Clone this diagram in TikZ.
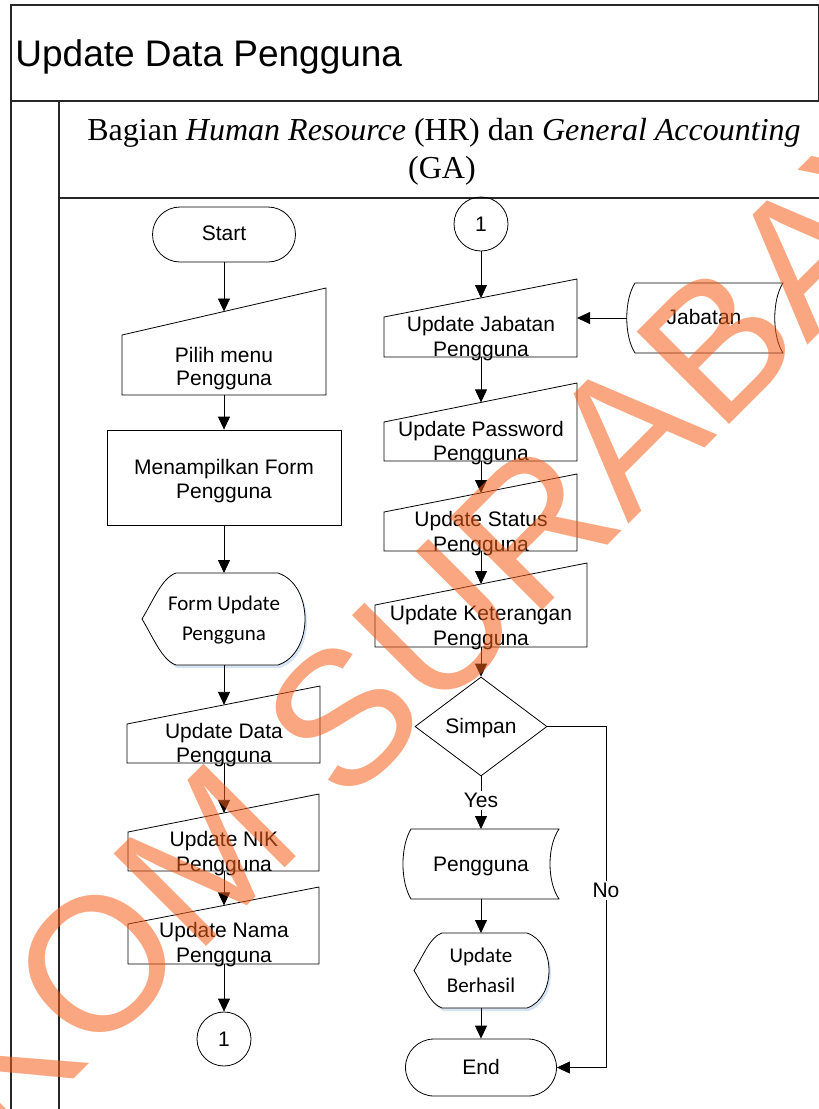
\documentclass[tikz,border=0pt]{standalone}
\usepackage{fontspec}
\setmainfont{Liberation Serif}
\newfontfamily\arialf{Liberation Sans}
\newfontfamily\calibf{Carlito}
\usetikzlibrary{arrows.meta,shapes.geometric,shapes.misc}

\definecolor{wmark}{RGB}{245,95,25}
\definecolor{shadowblue}{RGB}{214,227,243}

\begin{document}
\begin{tikzpicture}[x=1pt,y=-1pt,
  line width=0.8pt,
  arr/.style={-{Triangle[length=13pt,width=12pt]}},
  border/.style={line width=1.1pt,draw=black!85},
  txt/.style={anchor=base,inner sep=0pt,font=\arialf\fontsize{21}{24}\selectfont},
  ctxt/.style={anchor=base,inner sep=0pt,font=\calibf\fontsize{21}{24}\selectfont},
  lbl/.style={fill=white,inner sep=2pt,font=\arialf\fontsize{21}{24}\selectfont},
  term/.style={draw,rounded rectangle,inner sep=0pt},
  conn/.style={draw,circle,minimum size=54pt,inner sep=0pt},
  proc/.style={draw,rectangle,inner sep=0pt},
  decide/.style={draw,diamond,inner sep=0pt}
]
\useasboundingbox (0,0) rectangle (819,1109);

% ---------- pool and lane frame ----------
\draw[border] (11,1109) -- (11,5) -- (818.5,5) -- (818.5,101);
\draw[border] (11,101) -- (819,101);
\draw[border] (59,101) -- (59,1109);
\draw[border] (59,198) -- (819,198);

\node[anchor=base west,inner sep=0pt,font=\arialf\fontsize{37}{41}\selectfont]
  (title) at (15,66) {Update Data Pengguna};
\node[anchor=base,inner sep=0pt,font=\fontsize{32}{38}\selectfont]
  (lane1) at (444,140) {Bagian \textit{Human Resource} (HR) dan \textit{General Accounting}};
\node[anchor=base,inner sep=0pt,font=\fontsize{32}{38}\selectfont]
  (lane2) at (442,178) {(GA)};

% ---------- left column ----------
\node[term,minimum width=143pt,minimum height=55pt] (start) at (224,234.5) {};
\node[txt] (start-t) at (224,240) {Start};

% manual input: Pilih menu Pengguna
\draw (122,335) -- (326,288) -- (326,395) -- (122,395) -- cycle;
\coordinate (pilih-in) at (224,311.5);
\coordinate (pilih-out) at (224,395);
\node[txt] (pilih-t1) at (224,362) {Pilih menu};
\node[txt] (pilih-t2) at (224,385) {Pengguna};

% process
\node[proc,minimum width=234pt,minimum height=95pt] (tampil) at (224,477.5) {};
\node[txt] (tampil-t1) at (224,474) {Menampilkan Form};
\node[txt] (tampil-t2) at (224,498) {Pengguna};

% display: Form Update Pengguna
\fill[shadowblue,shift={(2,3)}] (142,619) .. controls (154,599) and (162,578) .. (176,573)
  -- (278,573) .. controls (314,585) and (314,653) .. (278,665)
  -- (176,665) .. controls (162,660) and (154,639) .. (142,619) -- cycle;
\draw[fill=white] (142,619) .. controls (154,599) and (162,578) .. (176,573)
  -- (278,573) .. controls (314,585) and (314,653) .. (278,665)
  -- (176,665) .. controls (162,660) and (154,639) .. (142,619) -- cycle;
\coordinate (form-in) at (224,573);
\coordinate (form-out) at (224,665);
\node[ctxt] (form-t1) at (224,610) {Form Update};
\node[ctxt] (form-t2) at (224,640) {Pengguna};

% manual inputs
\draw (127,724) -- (320,686) -- (320,763) -- (127,763) -- cycle;
\coordinate (data-in) at (224,704.9);
\coordinate (data-out) at (224,763);
\node[txt] (data-t1) at (224,738) {Update Data};
\node[txt] (data-t2) at (224,762) {Pengguna};

\draw (128,832) -- (319,794) -- (319,871) -- (128,871) -- cycle;
\coordinate (nik-in) at (224,812.9);
\coordinate (nik-out) at (224,871);
\node[txt] (nik-t1) at (224,846) {Update NIK};
\node[txt] (nik-t2) at (224,871) {Pengguna};

\draw (128,924) -- (319,887) -- (319,964) -- (128,964) -- cycle;
\coordinate (nama-in) at (224,905.4);
\coordinate (nama-out) at (224,964);
\node[txt] (nama-t1) at (224,937) {Update Nama};
\node[txt] (nama-t2) at (224,962) {Pengguna};

\node[conn] (offa) at (224,1039) {};
\node[txt] (offa-t) at (224,1046.5) {1};

% ---------- right column ----------
\node[conn] (offb) at (481,224) {};
\node[txt] (offb-t) at (481,231.5) {1};

\draw (384,317) -- (577,279) -- (577,357) -- (384,357) -- cycle;
\coordinate (jab-in) at (481,298);
\coordinate (jab-side) at (577,318);
\coordinate (jab-out) at (481,357);
\node[txt] (jab-t1) at (481,331) {Update Jabatan};
\node[txt] (jab-t2) at (481,356) {Pengguna};

% stored data: Jabatan
\draw (635,283) -- (783,283) .. controls (772,300) and (772,336) .. (783,353)
  -- (635,353) .. controls (624,336) and (624,300) .. (635,283) -- cycle;
\coordinate (tbljab) at (627,318);
\node[txt] (tbljab-t) at (704,324) {Jabatan};

\draw (384,422) -- (577,383) -- (577,461) -- (384,461) -- cycle;
\coordinate (pass-in) at (481,402.4);
\coordinate (pass-out) at (481,461);
\node[txt] (pass-t1) at (481,436) {Update Password};
\node[txt] (pass-t2) at (481,460) {Pengguna};

\draw (384,512) -- (577,474) -- (577,551) -- (384,551) -- cycle;
\coordinate (stat-in) at (481,493);
\coordinate (stat-out) at (481,551);
\node[txt] (stat-t1) at (481,526) {Update Status};
\node[txt] (stat-t2) at (481,551) {Pengguna};

\draw (375,605) -- (587,563) -- (587,647) -- (375,647) -- cycle;
\coordinate (ket-in) at (481,584);
\coordinate (ket-out) at (481,647);
\node[txt] (ket-t1) at (481,620) {Update Keterangan};
\node[txt] (ket-t2) at (481,645) {Pengguna};

\node[decide,minimum width=132pt,minimum height=99pt] (simpan) at (481,726.5) {};
\node[txt] (simpan-t) at (481,733) {Simpan};

% stored data: Pengguna
\draw (411,829) -- (559,829) .. controls (547,846.5) and (547,881.5) .. (559,899)
  -- (411,899) .. controls (400.3,881.5) and (400.3,846.5) .. (411,829) -- cycle;
\coordinate (pgn-in) at (481,829);
\coordinate (pgn-out) at (481,899);
\node[txt] (pgn-t) at (481,871) {Pengguna};

% display: Update Berhasil
\fill[shadowblue,shift={(2,3)}] (414,970.5) .. controls (424,954.5) and (430,937) .. (442,933)
  -- (527,933) .. controls (556.3,943) and (556.3,998) .. (527,1008)
  -- (442,1008) .. controls (430,1004) and (424,986.5) .. (414,970.5) -- cycle;
\draw[fill=white] (414,970.5) .. controls (424,954.5) and (430,937) .. (442,933)
  -- (527,933) .. controls (556.3,943) and (556.3,998) .. (527,1008)
  -- (442,1008) .. controls (430,1004) and (424,986.5) .. (414,970.5) -- cycle;
\coordinate (ok-in) at (481,933);
\coordinate (ok-out) at (481,1008);
\node[ctxt] (ok-t1) at (481,962) {Update};
\node[ctxt] (ok-t2) at (481,992) {Berhasil};

\node[term,minimum width=151pt,minimum height=57pt] (end) at (481,1067.5) {};
\node[txt] (end-t) at (481,1074) {End};

% ---------- connectors ----------
\draw[arr] (start.south) -- (pilih-in);
\draw[arr] (pilih-out) -- (tampil.north);
\draw[arr] (tampil.south) -- (form-in);
\draw[arr] (form-out) -- (data-in);
\draw[arr] (data-out) -- (nik-in);
\draw[arr] (nik-out) -- (nama-in);
\draw[arr] (nama-out) -- (offa.north);

\draw[arr] (offb.south) -- (jab-in);
\draw[arr] (tbljab) -- (jab-side);
\draw[arr] (jab-out) -- (pass-in);
\draw[arr] (pass-out) -- (stat-in);
\draw[arr] (stat-out) -- (ket-in);
\draw[arr] (ket-out) -- (simpan.north);
\draw[arr] (simpan.south) -- node[lbl,pos=0.462] (yes) {Yes} (pgn-in);
\draw[arr] (pgn-out) -- (ok-in);
\draw[arr] (ok-out) -- (end.north);
\coordinate (noturn) at (606,726.5);
\draw[arr] (simpan.east) -- (noturn) -- node[lbl,pos=0.481] (no) {No} (noturn |- end.east) -- (end.east);

% ---------- watermark ----------
\node[anchor=base west,inner sep=0pt,rotate=45,text=wmark,text opacity=0.55,
  font=\arialf\fontsize{190}{190}\selectfont] (wm) at (-207.8,1361) {STIKOM SURABAYA};
\end{tikzpicture}
\end{document}
